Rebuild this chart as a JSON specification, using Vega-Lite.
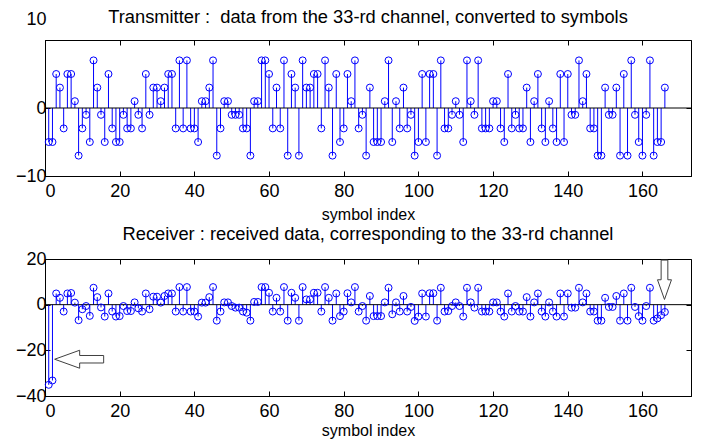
{
  "$schema": "https://vega.github.io/schema/vega-lite/v6.json",
  "background": "white",
  "padding": {"left": 14, "top": 7, "right": 5, "bottom": 0},
  "bounds": "flush",
  "spacing": 83,
  "config": {
    "font": "Liberation Sans",
    "view": {"stroke": "black", "strokeWidth": 1},
    "axis": {
      "grid": false,
      "labelFont": "Liberation Sans",
      "labelFontSize": 18,
      "labelColor": "black",
      "tickColor": "black",
      "tickSize": -5,
      "domainColor": "black",
      "titleFont": "Liberation Sans",
      "titleFontSize": 16,
      "titleFontWeight": "normal",
      "titleColor": "black"
    },
    "axisX": {"labelPadding": 11},
    "axisY": {"labelPadding": 4},
    "title": {"font": "Liberation Sans", "fontSize": 18.3, "fontWeight": "normal", "color": "black"}
  },
  "datasets": {
    "tx": [
      {"i":1,"v":-5},{"i":2,"v":-5},{"i":3,"v":5},{"i":4,"v":3},{"i":5,"v":-3},{"i":6,"v":5},{"i":7,"v":5},{"i":8,"v":1},{"i":9,"v":-7},{"i":10,"v":-3},
      {"i":11,"v":-1},{"i":12,"v":-5},{"i":13,"v":7},{"i":14,"v":3},{"i":15,"v":-1},{"i":16,"v":-5},{"i":17,"v":5},{"i":18,"v":-3},{"i":19,"v":-5},{"i":20,"v":-5},
      {"i":21,"v":-1},{"i":22,"v":-3},{"i":23,"v":-3},{"i":24,"v":1},{"i":25,"v":-1},{"i":26,"v":-3},{"i":27,"v":5},{"i":28,"v":-1},{"i":29,"v":3},{"i":30,"v":3},
      {"i":31,"v":1},{"i":32,"v":3},{"i":33,"v":5},{"i":34,"v":5},{"i":35,"v":-3},{"i":36,"v":7},{"i":37,"v":-3},{"i":38,"v":7},{"i":39,"v":-3},{"i":40,"v":-3},
      {"i":41,"v":-5},{"i":42,"v":1},{"i":43,"v":1},{"i":44,"v":3},{"i":45,"v":7},{"i":46,"v":-7},{"i":47,"v":-3},{"i":48,"v":1},{"i":49,"v":1},{"i":50,"v":-1},
      {"i":51,"v":-1},{"i":52,"v":-1},{"i":53,"v":-3},{"i":54,"v":-3},{"i":55,"v":-7},{"i":56,"v":1},{"i":57,"v":1},{"i":58,"v":7},{"i":59,"v":7},{"i":60,"v":5},
      {"i":61,"v":-3},{"i":62,"v":3},{"i":63,"v":-3},{"i":64,"v":7},{"i":65,"v":-7},{"i":66,"v":5},{"i":67,"v":3},{"i":68,"v":-7},{"i":69,"v":7},{"i":70,"v":3},
      {"i":71,"v":3},{"i":72,"v":5},{"i":73,"v":5},{"i":74,"v":-3},{"i":75,"v":7},{"i":76,"v":3},{"i":77,"v":-7},{"i":78,"v":5},{"i":79,"v":-5},{"i":80,"v":-3},
      {"i":81,"v":5},{"i":82,"v":1},{"i":83,"v":7},{"i":84,"v":-3},{"i":85,"v":-1},{"i":86,"v":-7},{"i":87,"v":3},{"i":88,"v":-5},{"i":89,"v":-5},{"i":90,"v":-5},
      {"i":91,"v":1},{"i":92,"v":7},{"i":93,"v":-5},{"i":94,"v":1},{"i":95,"v":-3},{"i":96,"v":3},{"i":97,"v":-3},{"i":98,"v":-1},{"i":99,"v":-7},{"i":100,"v":-5},
      {"i":101,"v":5},{"i":102,"v":-5},{"i":103,"v":5},{"i":104,"v":5},{"i":105,"v":-7},{"i":106,"v":7},{"i":107,"v":-3},{"i":108,"v":-3},{"i":109,"v":-1},{"i":110,"v":1},
      {"i":111,"v":-1},{"i":112,"v":-5},{"i":113,"v":7},{"i":114,"v":1},{"i":115,"v":-1},{"i":116,"v":7},{"i":117,"v":-3},{"i":118,"v":-3},{"i":119,"v":-3},{"i":120,"v":1},
      {"i":121,"v":1},{"i":122,"v":-3},{"i":123,"v":-5},{"i":124,"v":5},{"i":125,"v":-3},{"i":126,"v":-1},{"i":127,"v":-3},{"i":128,"v":-3},{"i":129,"v":3},{"i":130,"v":-5},
      {"i":131,"v":1},{"i":132,"v":5},{"i":133,"v":-3},{"i":134,"v":-5},{"i":135,"v":1},{"i":136,"v":-3},{"i":137,"v":-5},{"i":138,"v":5},{"i":139,"v":-5},{"i":140,"v":5},
      {"i":141,"v":-1},{"i":142,"v":-1},{"i":143,"v":7},{"i":144,"v":1},{"i":145,"v":5},{"i":146,"v":-3},{"i":147,"v":-3},{"i":148,"v":-7},{"i":149,"v":-7},{"i":150,"v":3},
      {"i":151,"v":-1},{"i":152,"v":-1},{"i":153,"v":3},{"i":154,"v":-7},{"i":155,"v":5},{"i":156,"v":-7},{"i":157,"v":7},{"i":158,"v":-1},{"i":159,"v":-5},{"i":160,"v":-7},
      {"i":161,"v":-1},{"i":162,"v":7},{"i":163,"v":-7},{"i":164,"v":-5},{"i":165,"v":-5},{"i":166,"v":3}
    ],
    "rx": [
      {"i":1,"v":-35.1},{"i":2,"v":-33.2},{"i":3,"v":4.9},{"i":4,"v":3.0},{"i":5,"v":-3.0},{"i":6,"v":4.9},{"i":7,"v":5.1},{"i":8,"v":0.9},{"i":9,"v":-6.8},{"i":10,"v":-2.0},
      {"i":11,"v":-0.6},{"i":12,"v":-4.9},{"i":13,"v":7.4},{"i":14,"v":3.3},{"i":15,"v":-1.2},{"i":16,"v":-5.2},{"i":17,"v":4.9},{"i":18,"v":-3.0},{"i":19,"v":-5.2},{"i":20,"v":-5.0},
      {"i":21,"v":-0.6},{"i":22,"v":-2.8},{"i":23,"v":-2.8},{"i":24,"v":1.0},{"i":25,"v":-1.6},{"i":26,"v":-3.0},{"i":27,"v":4.9},{"i":28,"v":-2.0},{"i":29,"v":3.5},{"i":30,"v":3.5},
      {"i":31,"v":0.9},{"i":32,"v":3.8},{"i":33,"v":4.9},{"i":34,"v":4.9},{"i":35,"v":-3.0},{"i":36,"v":7.7},{"i":37,"v":-3.0},{"i":38,"v":7.7},{"i":39,"v":-3.0},{"i":40,"v":-3.0},
      {"i":41,"v":-5.2},{"i":42,"v":0.9},{"i":43,"v":0.9},{"i":44,"v":3.3},{"i":45,"v":7.7},{"i":46,"v":-7.0},{"i":47,"v":-3.0},{"i":48,"v":1.0},{"i":49,"v":1.0},{"i":50,"v":-0.6},
      {"i":51,"v":-1.3},{"i":52,"v":-1.3},{"i":53,"v":-3.0},{"i":54,"v":-3.5},{"i":55,"v":-7.0},{"i":56,"v":1.2},{"i":57,"v":1.2},{"i":58,"v":7.7},{"i":59,"v":7.7},{"i":60,"v":5.2},
      {"i":61,"v":-3.0},{"i":62,"v":3.0},{"i":63,"v":-3.0},{"i":64,"v":7.7},{"i":65,"v":-7.0},{"i":66,"v":5.2},{"i":67,"v":3.0},{"i":68,"v":-7.0},{"i":69,"v":7.7},{"i":70,"v":2.3},
      {"i":71,"v":2.3},{"i":72,"v":5.2},{"i":73,"v":5.2},{"i":74,"v":-3.0},{"i":75,"v":7.7},{"i":76,"v":3.0},{"i":77,"v":-7.0},{"i":78,"v":4.9},{"i":79,"v":-5.0},{"i":80,"v":-3.0},
      {"i":81,"v":5.0},{"i":82,"v":1.0},{"i":83,"v":7.7},{"i":84,"v":-3.0},{"i":85,"v":-0.6},{"i":86,"v":-7.0},{"i":87,"v":3.8},{"i":88,"v":-5.0},{"i":89,"v":-5.0},{"i":90,"v":-5.0},
      {"i":91,"v":1.0},{"i":92,"v":7.4},{"i":93,"v":-4.2},{"i":94,"v":1.0},{"i":95,"v":-3.0},{"i":96,"v":3.8},{"i":97,"v":-3.0},{"i":98,"v":-1.0},{"i":99,"v":-7.1},{"i":100,"v":-5.2},
      {"i":101,"v":4.9},{"i":102,"v":-5.2},{"i":103,"v":5.0},{"i":104,"v":5.0},{"i":105,"v":-7.0},{"i":106,"v":7.4},{"i":107,"v":-3.0},{"i":108,"v":-2.8},{"i":109,"v":-0.6},{"i":110,"v":1.0},
      {"i":111,"v":-0.6},{"i":112,"v":-5.2},{"i":113,"v":7.4},{"i":114,"v":1.0},{"i":115,"v":-1.3},{"i":116,"v":7.4},{"i":117,"v":-3.0},{"i":118,"v":-3.0},{"i":119,"v":-3.0},{"i":120,"v":1.0},
      {"i":121,"v":1.0},{"i":122,"v":-3.0},{"i":123,"v":-5.2},{"i":124,"v":4.9},{"i":125,"v":-3.0},{"i":126,"v":-0.6},{"i":127,"v":-3.0},{"i":128,"v":-3.0},{"i":129,"v":3.3},{"i":130,"v":-5.2},
      {"i":131,"v":1.0},{"i":132,"v":4.9},{"i":133,"v":-3.0},{"i":134,"v":-5.2},{"i":135,"v":1.0},{"i":136,"v":-3.0},{"i":137,"v":-5.2},{"i":138,"v":4.9},{"i":139,"v":-5.2},{"i":140,"v":4.9},
      {"i":141,"v":-1.3},{"i":142,"v":-1.3},{"i":143,"v":7.4},{"i":144,"v":1.0},{"i":145,"v":4.9},{"i":146,"v":-3.0},{"i":147,"v":-3.0},{"i":148,"v":-7.0},{"i":149,"v":-7.0},{"i":150,"v":3.0},
      {"i":151,"v":-1.0},{"i":152,"v":-1.0},{"i":153,"v":3.8},{"i":154,"v":-7.0},{"i":155,"v":4.9},{"i":156,"v":-7.0},{"i":157,"v":7.4},{"i":158,"v":-1.0},{"i":159,"v":-5.0},{"i":160,"v":-7.0},
      {"i":161,"v":-0.6},{"i":162,"v":7.4},{"i":163,"v":-7.0},{"i":164,"v":-6.0},{"i":165,"v":-4.6},{"i":166,"v":-3.2}
    ],
    "leftArrow": [{"i": 9.15, "v": -23.9}],
    "downArrow": [{"i": 165.9, "v": 10.9}],
    "baseline": [{"v": 0}]
  },
  "vconcat": [
    {
      "width": 646,
      "height": 136,
      "title": {"text": "Transmitter :\u00a0 data from the 33-rd channel, converted to symbols", "offset": -17},
      "layer": [
        {
          "data": {"name": "tx"},
          "mark": {"type": "rule", "color": "#0000ff", "strokeWidth": 1},
          "encoding": {
            "x": {"field": "i", "type": "quantitative", "scale": {"domain": [0, 173], "nice": false, "zero": false},
                  "axis": {"values": [0, 20, 40, 60, 80, 100, 120, 140, 160], "title": "symbol index", "titlePadding": 6}},
            "y": {"field": "v", "type": "quantitative", "scale": {"domain": [-10, 10], "nice": false},
                  "axis": {"values": [-10, 0, 10], "title": null,
                           "labelOffset": {"condition": {"test": "datum.value === 10", "value": -21}, "value": 0}}},
            "y2": {"datum": 0}
          }
        },
        {
          "data": {"name": "baseline"},
          "mark": {"type": "rule", "color": "black", "strokeWidth": 1},
          "encoding": {
            "y": {"field": "v", "type": "quantitative", "scale": {"domain": [-10, 10], "nice": false}, "axis": null}
          }
        },
        {
          "data": {"name": "tx"},
          "mark": {"type": "point", "shape": "circle", "filled": false, "color": "#0000ff", "size": 49, "strokeWidth": 1, "opacity": 1},
          "encoding": {
            "x": {"field": "i", "type": "quantitative", "scale": {"domain": [0, 173], "nice": false, "zero": false},
                  "axis": {"orient": "top", "values": [0, 20, 40, 60, 80, 100, 120, 140, 160], "labels": false, "domain": false, "title": null}},
            "y": {"field": "v", "type": "quantitative", "scale": {"domain": [-10, 10], "nice": false},
                  "axis": {"orient": "right", "values": [-10, 0, 10], "labels": false, "domain": false, "title": null}}
          }
        }
      ],
      "resolve": {"axis": {"x": "independent", "y": "independent"}}
    },
    {
      "width": 646,
      "height": 137,
      "title": {"text": "Receiver : received data, corresponding to the 33-rd channel", "offset": 6},
      "layer": [
        {
          "data": {"name": "rx"},
          "mark": {"type": "rule", "color": "#0000ff", "strokeWidth": 1},
          "encoding": {
            "x": {"field": "i", "type": "quantitative", "scale": {"domain": [0, 173], "nice": false, "zero": false},
                  "axis": {"values": [0, 20, 40, 60, 80, 100, 120, 140, 160], "title": "symbol index", "titlePadding": 2}},
            "y": {"field": "v", "type": "quantitative", "scale": {"domain": [-40, 20], "nice": false},
                  "axis": {"values": [-40, -20, 0, 20], "title": null}},
            "y2": {"datum": 0}
          }
        },
        {
          "data": {"name": "baseline"},
          "mark": {"type": "rule", "color": "black", "strokeWidth": 1},
          "encoding": {
            "y": {"field": "v", "type": "quantitative", "scale": {"domain": [-40, 20], "nice": false}, "axis": null}
          }
        },
        {
          "data": {"name": "rx"},
          "mark": {"type": "point", "shape": "circle", "filled": false, "color": "#0000ff", "size": 49, "strokeWidth": 1, "opacity": 1},
          "encoding": {
            "x": {"field": "i", "type": "quantitative", "scale": {"domain": [0, 173], "nice": false, "zero": false},
                  "axis": {"orient": "top", "values": [0, 20, 40, 60, 80, 100, 120, 140, 160], "labels": false, "domain": false, "title": null}},
            "y": {"field": "v", "type": "quantitative", "scale": {"domain": [-40, 20], "nice": false},
                  "axis": {"orient": "right", "values": [-40, -20, 0, 20], "labels": false, "domain": false, "title": null}}
          }
        },
        {
          "data": {"name": "leftArrow"},
          "mark": {"type": "point", "shape": "M-1,0 L0.02,-0.367 L0.02,-0.153 L1,-0.153 L1,0.153 L0.02,0.153 L0.02,0.367 Z",
                   "size": 2401, "filled": true, "fill": "white", "stroke": "#404040", "strokeWidth": 1, "opacity": 1},
          "encoding": {
            "x": {"field": "i", "type": "quantitative", "scale": {"domain": [0, 173], "nice": false, "zero": false}, "axis": null},
            "y": {"field": "v", "type": "quantitative", "scale": {"domain": [-40, 20], "nice": false}, "axis": null}
          }
        },
        {
          "data": {"name": "downArrow"},
          "mark": {"type": "point", "shape": "M-0.17,-1 L0.17,-1 L0.17,0 L0.355,0 L0,1 L-0.355,0 L-0.17,0 Z",
                   "size": 1552, "filled": true, "fill": "white", "stroke": "#404040", "strokeWidth": 1, "opacity": 1},
          "encoding": {
            "x": {"field": "i", "type": "quantitative", "scale": {"domain": [0, 173], "nice": false, "zero": false}, "axis": null},
            "y": {"field": "v", "type": "quantitative", "scale": {"domain": [-40, 20], "nice": false}, "axis": null}
          }
        }
      ],
      "resolve": {"axis": {"x": "independent", "y": "independent"}}
    }
  ]
}
